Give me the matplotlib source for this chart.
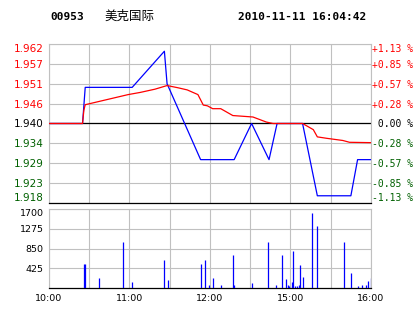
import matplotlib
matplotlib.use('Agg')
import matplotlib.pyplot as plt

code = '00953'
name = '美克国际'
stamp = '2010-11-11 16:04:42'
prev_close = 1.940

# minutes since 10:00, the 12:00-15:00 gap is squeezed out (240 min on the axis)
price_t = [0, 25, 27, 62, 86, 88, 113, 138, 151, 164, 170, 189, 200, 225, 230, 240]
price = [1.940, 1.940, 1.950, 1.950, 1.960, 1.951, 1.930, 1.930, 1.940, 1.930,
         1.940, 1.940, 1.920, 1.920, 1.930, 1.930]

avg_t = [0, 25, 26, 27, 59, 68, 79, 88, 96, 103, 111, 115, 118, 122, 128, 137,
         152, 162, 167, 189, 197, 200, 207, 219, 224, 240]
avg = [1.9400, 1.9400, 1.9437, 1.9452, 1.9480, 1.9486, 1.9495, 1.9505, 1.9499,
       1.9493, 1.9480, 1.9451, 1.9449, 1.9441, 1.9441, 1.9422, 1.9418, 1.9404,
       1.9400, 1.9400, 1.9383, 1.9363, 1.9359, 1.9353, 1.9348, 1.9347]

vol_t = [26, 27, 37, 55, 62, 86, 89, 113, 116, 119, 122, 128, 137, 138, 151,
         163, 169, 174, 177, 178, 179, 181, 182, 183, 185, 186, 187, 189, 196,
         200, 220, 225, 230, 233, 236, 238, 240]
vol = [516, 516, 215, 990, 129, 602, 172, 516, 602, 65, 215, 65, 710, 65, 108,
       990, 65, 710, 194, 65, 43, 129, 796, 43, 43, 65, 495, 237, 1614,
       1334, 990, 323, 43, 65, 65, 151, 215]

price_grid = [1.918, 1.9235, 1.929, 1.9345, 1.940, 1.9455, 1.951, 1.9565, 1.962]
price_labels = ['1.918', '1.923', '1.929', '1.934', '1.940', '1.946', '1.951', '1.957', '1.962']
pct_labels = ['-1.13 %', '-0.85 %', '-0.57 %', '-0.28 %', ' 0.00 %',
              '+0.28 %', '+0.57 %', '+0.85 %', '+1.13 %']
vol_ticks = [425, 850, 1275, 1700]
time_ticks = [0, 30, 60, 90, 120, 150, 180, 210, 240]
time_labels = ['10:00', '', '11:00', '', '12:00', '', '15:00', '', '16:00']

GRID = '#c0c0c0'
GREEN = '#006000'
W, H = 414, 314


def frame(ax):
    for side in ('left', 'top', 'right'):
        ax.spines[side].set_color(GRID)
        ax.spines[side].set_linewidth(0.8)
    ax.spines['bottom'].set_color('black')
    ax.spines['bottom'].set_linewidth(0.9)
    ax.grid(True, color=GRID, linewidth=0.8, zorder=0)
    ax.set_axisbelow(True)
    ax.set_xlim(0, 240)
    ax.set_xticks(time_ticks)
    ax.tick_params(length=0)


def label_colors():
    out = []
    for p in price_grid:
        if abs(p - prev_close) < 1e-6:
            out.append('black')
        elif p > prev_close:
            out.append('red')
        else:
            out.append(GREEN)
    return out


def main():
    fig = plt.figure(figsize=(W / 100, H / 100), dpi=100)
    ax = fig.add_axes([49 / W, (H - 203) / H, 322 / W, 159 / H])
    ax_vol = fig.add_axes([49 / W, (H - 288) / H, 322 / W, 79 / H])

    # price panel
    frame(ax)
    ax.set_ylim(price_grid[0], price_grid[-1])
    ax.set_xticklabels([])
    ax.set_yticks(price_grid, price_labels, fontsize=7.5, family='DejaVu Sans')
    ax.tick_params(axis='y', pad=4)
    ax.axhline(prev_close, color='black', linewidth=0.9, zorder=2)
    ax.plot(price_t, price, color='blue', linewidth=0.9, zorder=3)
    ax.plot(avg_t, avg, color='red', linewidth=0.9, zorder=4)

    colors = label_colors()
    labels = ax.get_yticklabels()
    for lbl, c in zip(labels, colors):
        lbl.set_color(c)
    labels[0].set_va('bottom')
    labels[-1].set_va('top')

    ax_r = ax.twinx()
    ax_r.set_ylim(price_grid[0], price_grid[-1])
    ax_r.set_yticks(price_grid, pct_labels, fontsize=7, family='DejaVu Sans Mono')
    ax_r.tick_params(length=0, pad=1)
    for s in ax_r.spines.values():
        s.set_visible(False)
    rlabels = ax_r.get_yticklabels()
    for lbl, c in zip(rlabels, colors):
        lbl.set_color(c)
    rlabels[0].set_va('bottom')
    rlabels[-1].set_va('top')

    # volume panel
    frame(ax_vol)
    ax_vol.set_ylim(0, 1700)
    ax_vol.set_yticks(vol_ticks, [str(v) for v in vol_ticks], fontsize=6.8)
    ax_vol.set_xticklabels(time_labels, fontsize=6.8)
    ax_vol.tick_params(axis='y', pad=4)
    ax_vol.tick_params(axis='x', pad=4)
    ax_vol.get_yticklabels()[-1].set_va('top')
    ax_vol.vlines(vol_t, 0, vol, colors='blue', linewidth=0.9, zorder=3)

    # header
    fig.text(50 / W, 1 - 17 / H, code, fontsize=8, weight='bold',
             family='DejaVu Sans Mono', va='center')
    fig.text(104 / W, 1 - 16 / H, name, fontsize=9,
             family=['Noto Sans CJK SC', 'DejaVu Sans'], va='center')
    fig.text(238 / W, 1 - 17 / H, stamp, fontsize=8, weight='bold',
             family='DejaVu Sans Mono', va='center')

    fig.savefig('out.png', dpi=100)


if __name__ == '__main__':
    main()
